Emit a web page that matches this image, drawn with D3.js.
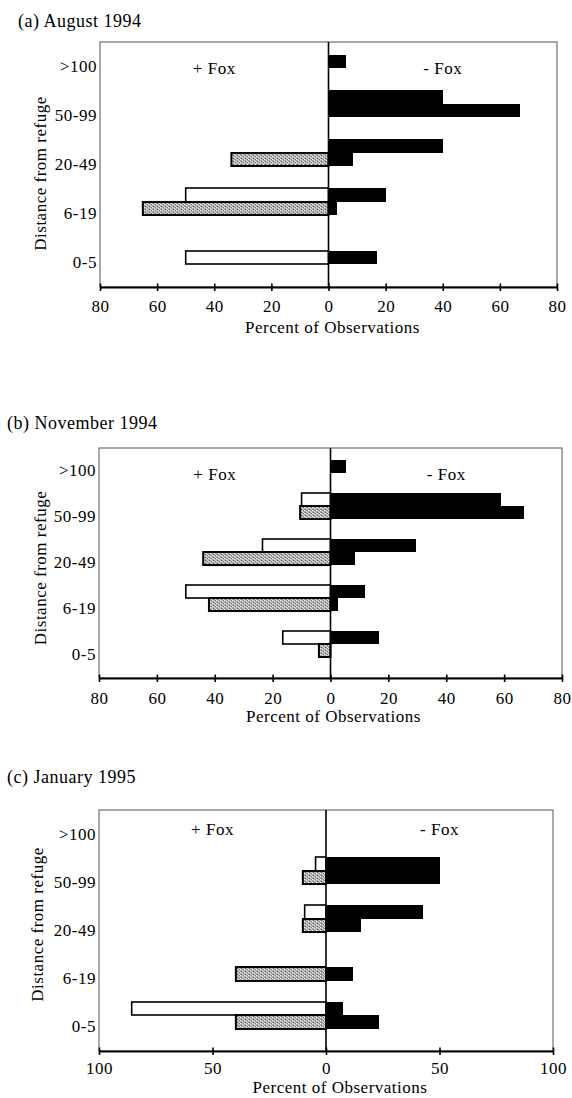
<!DOCTYPE html>
<html><head><meta charset="utf-8">
<script src="https://cdn.jsdelivr.net/npm/d3@7"></script>
<style>
html,body{margin:0;padding:0;background:#fff;}
svg text{font-family:'Liberation Serif','Times New Roman',serif;fill:#000;letter-spacing:0.5px;}
</style></head><body>
<svg id="chart" width="572" height="1098"></svg>
<script>
// ---------- DATA ----------
const categories = [">100", "50-99", "20-49", "6-19", "0-5"];

// (a) August 1994  (A = upper bar of pair, B = lower bar of pair)
const augPlusFoxA  = [null, null, null, 50, 50];     // open bars
const augPlusFoxB  = [null, null, 34, 65, null];     // stippled bars
const augMinusFoxA = [null, 40, 40, 20, 17];         // solid bars
const augMinusFoxB = [6, 67, 8.7, 3, null];

// (b) November 1994
const novPlusFoxA  = [null, 10, 23.5, 50, 16.5];
const novPlusFoxB  = [null, 10.5, 44, 42, 4];
const novMinusFoxA = [5.4, 59, 29.6, 12, 16.6];
const novMinusFoxB = [null, 67, 8.5, 2.7, 0];

// (c) January 1995
const janPlusFoxA  = [null, 4.6, 9.4, null, 85.6];
const janPlusFoxB  = [null, 10.2, 10.2, 39.7, 39.7];
const janMinusFoxA = [null, 50.3, 42.8, null, 7.7];
const janMinusFoxB = [null, 50, 15.6, 12, 23.3];

const ticks80  = [-80, -60, -40, -20, 0, 20, 40, 60, 80];
const ticks100 = [-100, -50, 0, 50, 100];

const panelTitles = ["(a) August 1994", "(b) November 1994", "(c) January 1995"];
const yTitle = "Distance from refuge";
const xTitle = "Percent of Observations";
const plusLabel = "+ Fox";
const minusLabel = "- Fox";

// ---------- LAYOUT ----------
const panels = [
  {title: panelTitles[0], tx: 18, ty: 27, left: 100, right: 557, top: 42, bottom: 287, max: 80, ticks: ticks80,
   plusA: augPlusFoxA, plusB: augPlusFoxB, minusA: augMinusFoxA, minusB: augMinusFoxB,
   foxDy: 27, yTitleDy: 9, yTitleX: 41, xTitleDx: 4, xTitleDy: 46, tickDy: 25},
  {title: panelTitles[1], tx: 7, ty: 429, left: 99, right: 562, top: 448, bottom: 678, max: 80, ticks: ticks80,
   plusA: novPlusFoxA, plusB: novPlusFoxB, minusA: novMinusFoxA, minusB: novMinusFoxB,
   foxDy: 27, yTitleDy: 5, yTitleX: 41, xTitleDx: 3, xTitleDy: 44, tickDy: 26},
  {title: panelTitles[2], tx: 7, ty: 783, left: 99, right: 553, top: 810, bottom: 1051, max: 100, ticks: ticks100,
   plusA: janPlusFoxA, plusB: janPlusFoxB, minusA: janMinusFoxA, minusB: janMinusFoxB,
   foxDy: 20, yTitleDy: -6, yTitleX: 38, xTitleDx: 14, xTitleDy: 42, tickDy: 23}
];

const svg = d3.select("#chart");

// stipple pattern for the grey bars
const defs = svg.append("defs");
const pat = defs.append("pattern").attr("id", "stipple").attr("patternUnits", "userSpaceOnUse")
  .attr("width", 4).attr("height", 3);
pat.append("rect").attr("width", 4).attr("height", 3).attr("fill", "#a9a9a9");
[[0,0,"#eeeeee"],[2,1,"#e6e6e6"],[1,2,"#5e5e5e"],[3,0,"#7a7a7a"],[3,2,"#d8d8d8"],[1,0,"#c8c8c8"]].forEach(([px,py,c]) =>
  pat.append("rect").attr("x", px).attr("y", py).attr("width", 1).attr("height", 1).attr("fill", c));

panels.forEach(p => {
  const g = svg.append("g");
  const x = d3.scaleLinear().domain([-p.max, p.max]).range([p.left, p.right]);
  const y = d3.scaleBand().domain(categories).range([p.top, p.bottom]);
  const B = y.bandwidth();
  const slotH = 0.28 * B;
  const startOff = -0.52 * B;
  const slotY = (c, k) => Math.round(y(c) + B / 2 + startOff + k * slotH);

  // title
  g.append("text").attr("x", p.tx).attr("y", p.ty).attr("font-size", 18).attr("letter-spacing", "0.6px").text(p.title);

  // frame
  g.append("rect").attr("x", p.left).attr("y", p.top)
    .attr("width", p.right - p.left).attr("height", p.bottom - p.top)
    .attr("fill", "none").attr("stroke", "#555").attr("stroke-width", 1);

  // bars
  const sides = [
    {sign: -1, A: p.plusA, B: p.plusB, fillA: "#fff", fillB: "url(#stipple)", swA: 1.6, swB: 2},
    {sign: 1, A: p.minusA, B: p.minusB, fillA: "#000", fillB: "#000", swA: 0, swB: 0}
  ];
  sides.forEach(s => {
    const bars = [];
    categories.forEach((c, i) => {
      const a = s.A[i], b = s.B[i];
      if (a != null) bars.push({c, v: a, slot: b == null ? 1 : 0, fill: s.fillA, sw: s.swA});
      if (b != null) bars.push({c, v: b, slot: 1, fill: s.fillB, sw: s.swB});
    });
    g.selectAll(null).data(bars.filter(d => d.v > 0)).enter().append("rect")
      .attr("x", d => Math.min(x(0), x(s.sign * d.v)))
      .attr("width", d => Math.abs(x(s.sign * d.v) - x(0)))
      .attr("y", d => slotY(d.c, d.slot))
      .attr("height", d => slotY(d.c, d.slot + 1) - slotY(d.c, d.slot))
      .attr("fill", d => d.fill)
      .attr("stroke", d => d.sw ? "#000" : "none")
      .attr("stroke-width", d => d.sw)
      .attr("shape-rendering", d => d.sw ? null : "crispEdges");
  });

  // zero line
  g.append("line").attr("x1", x(0)).attr("x2", x(0)).attr("y1", p.top).attr("y2", p.bottom)
    .attr("stroke", "#000").attr("stroke-width", 1.6);

  // bottom axis
  const ax = g.append("g").attr("transform", `translate(0,${p.bottom})`)
    .call(d3.axisBottom(x).tickValues(p.ticks).tickFormat(d => Math.abs(d)).tickSize(4).tickSizeOuter(0));
  ax.select(".domain").attr("stroke", "#000").attr("stroke-width", 2);
  ax.selectAll(".tick line").attr("y1", -3.5).attr("y2", 4).attr("stroke", "#000").attr("stroke-width", 1.6);
  ax.selectAll(".tick text").attr("y", p.tickDy).attr("dy", null)
    .attr("font-size", 17).attr("font-family", "'Liberation Serif', serif").attr("letter-spacing", "0.3px");

  // category labels
  g.selectAll(null).data(categories).enter().append("text")
    .attr("x", p.left - 3).attr("y", d => y(d) + B / 2).attr("dy", "0.32em")
    .attr("text-anchor", "end").attr("font-size", 17).text(d => d);

  // side labels
  g.append("text").attr("x", (p.left + x(0)) / 2).attr("y", p.top + p.foxDy).attr("dy", "0.32em")
    .attr("text-anchor", "middle").attr("font-size", 17).text(plusLabel);
  g.append("text").attr("x", (x(0) + p.right) / 2).attr("y", p.top + p.foxDy).attr("dy", "0.32em")
    .attr("text-anchor", "middle").attr("font-size", 17).text(minusLabel);

  // axis titles
  g.append("text").attr("transform", `translate(${p.yTitleX},${(p.top + p.bottom) / 2 + p.yTitleDy}) rotate(-90)`)
    .attr("text-anchor", "middle").attr("dy", "0.32em").attr("font-size", 17).text(yTitle);
  g.append("text").attr("x", x(0) + p.xTitleDx).attr("y", p.bottom + p.xTitleDy)
    .attr("text-anchor", "middle").attr("font-size", 17).text(xTitle);
});
</script>
</body></html>
